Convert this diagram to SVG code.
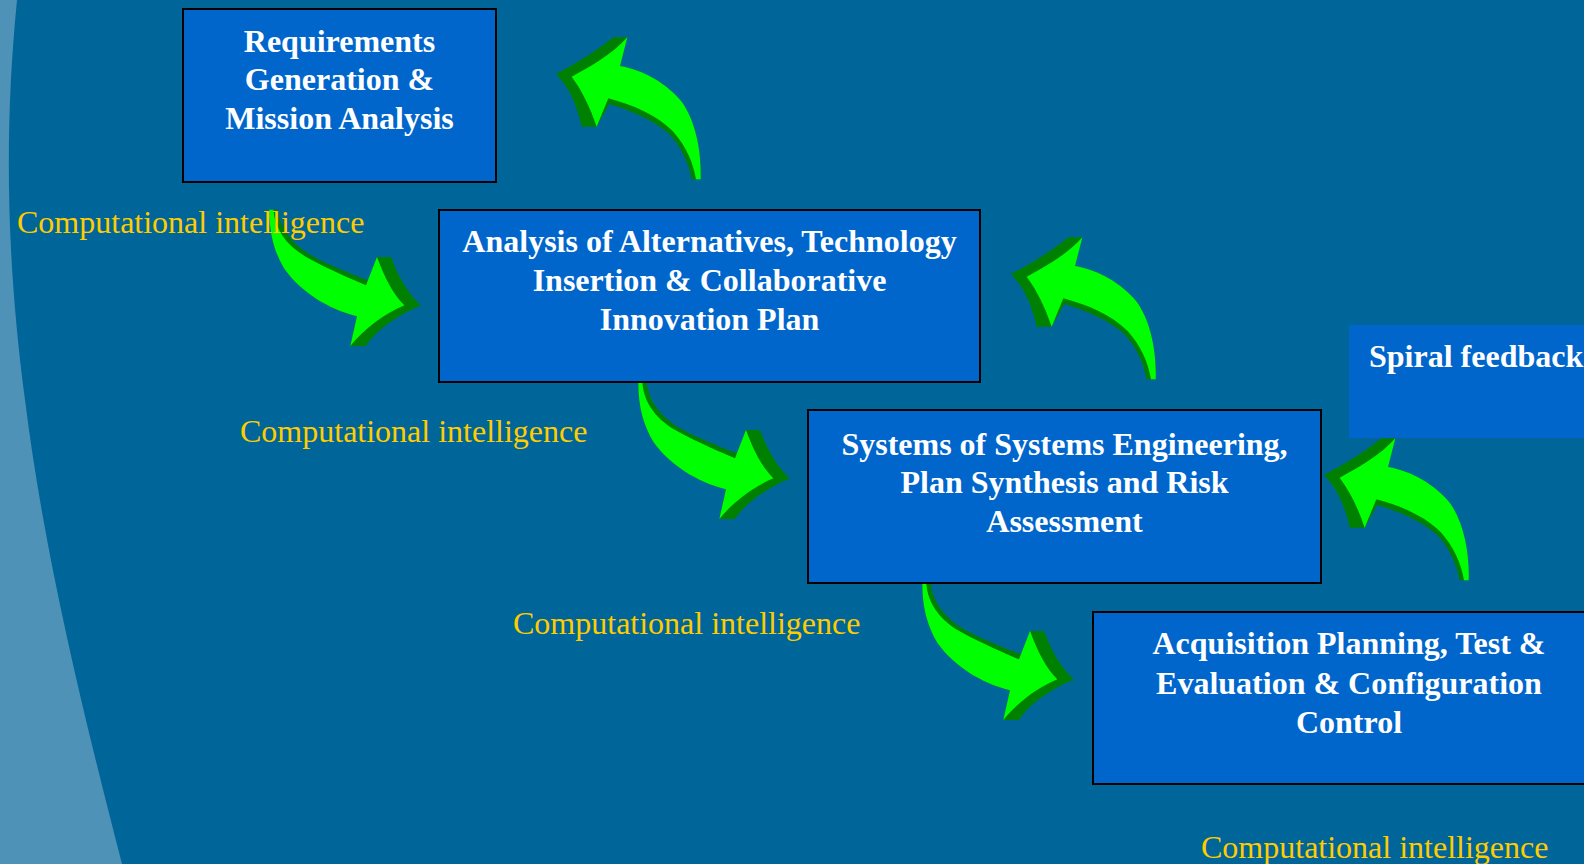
<svg xmlns="http://www.w3.org/2000/svg" xmlns:xlink="http://www.w3.org/1999/xlink" width="1584" height="864" viewBox="0 0 1584 864">
<style>
.box{fill:#0066CC;stroke:#000000;stroke-width:2}
.box2{fill:#0066CC}
.t{font-family:"Liberation Serif","Times New Roman",serif;font-weight:bold;font-size:32px;fill:#FFFFFF;text-anchor:middle}
.ts{font-family:"Liberation Serif","Times New Roman",serif;font-weight:bold;font-size:32px;fill:#FFFFFF}
.lbl{font-family:"Liberation Serif","Times New Roman",serif;font-size:32px;fill:#FFCC00}
.dk{fill:#008000}
.lt{fill:#00FF00}
</style>
<defs>
<g id="arrowUL" transform="scale(0.33333)">
<path class="dk" d="M48,132 C110,100 175,60 220,22 L262,22 L240,108 C310,120 380,160 425,215 C465,270 485,360 482,448 L455,448 C445,395 420,345 385,310 C340,270 270,240 208,222 L170,290 L125,290 C110,220 85,170 48,132 Z"/>
<path class="lt" d="M95,140 C150,110 215,75 262,22 L240,108 C310,120 380,160 425,215 C465,270 485,360 482,448 L468,448 C460,395 435,345 400,305 C350,255 280,225 205,205 L170,290 C150,230 125,180 95,140 Z"/>
</g>
<g id="arrowDR" transform="scale(0.33333)">
<path class="dk" d="M55,38 L80,38 C88,100 130,150 200,185 C260,215 320,238 352,250 L378,180 L420,180 C440,235 470,290 510,325 C440,355 375,400 345,447 L298,447 L318,358 C230,335 150,285 100,215 C70,165 55,110 55,38 Z"/>
<path class="lt" d="M55,38 L67,38 C72,100 110,150 175,185 C240,220 300,245 345,265 L378,180 C400,240 425,290 460,325 C400,350 340,395 298,447 L318,358 C230,335 150,285 100,215 C70,165 55,110 55,38 Z"/>
</g>
</defs>
<rect x="0" y="0" width="1584" height="864" fill="#006699"/>
<path d="M0,0 H17 C5,120 5,250 25,400 C45,560 85,720 122,864 H0 Z" fill="#4F92B8"/>
<g id="connectors">
<use xlink:href="#arrowUL" href="#arrowUL" transform="translate(540,30)"/>
<use xlink:href="#arrowUL" href="#arrowUL" transform="translate(995,230)"/>
<use xlink:href="#arrowUL" href="#arrowUL" transform="translate(1308,431)"/>
<use xlink:href="#arrowDR" href="#arrowDR" transform="translate(251,197)"/>
<use xlink:href="#arrowDR" href="#arrowDR" transform="translate(620,370)"/>
<use xlink:href="#arrowDR" href="#arrowDR" transform="translate(904,571)"/>
</g>
<g id="node-requirements">
<rect class="box" x="183" y="9" width="313" height="173"/>
<text class="t" x="339.5" y="52">Requirements</text>
<text class="t" x="339.5" y="90">Generation &amp;</text>
<text class="t" x="339.5" y="129">Mission Analysis</text>
</g>
<g id="node-analysis">
<rect class="box" x="439" y="210" width="541" height="172"/>
<text class="t" x="709.5" y="252">Analysis of Alternatives, Technology</text>
<text class="t" x="709.5" y="291">Insertion &amp; Collaborative</text>
<text class="t" x="709.5" y="330">Innovation Plan</text>
</g>
<g id="node-sose">
<rect class="box" x="808" y="410" width="513" height="173"/>
<text class="t" x="1064.5" y="455">Systems of Systems Engineering,</text>
<text class="t" x="1064.5" y="493">Plan Synthesis and Risk</text>
<text class="t" x="1064.5" y="532">Assessment</text>
</g>
<g id="node-acquisition">
<rect class="box" x="1093" y="612" width="512" height="172"/>
<text class="t" x="1349" y="654">Acquisition Planning, Test &amp;</text>
<text class="t" x="1349" y="694">Evaluation &amp; Configuration</text>
<text class="t" x="1349" y="733">Control</text>
</g>
<g id="node-spiral">
<rect class="box2" x="1349" y="325" width="260" height="113"/>
<text class="ts" x="1369" y="367">Spiral feedback</text>
</g>
<g id="labels">
<text class="lbl" x="17" y="233">Computational intelligence</text>
<text class="lbl" x="240" y="442">Computational intelligence</text>
<text class="lbl" x="513" y="634">Computational intelligence</text>
<text class="lbl" x="1201" y="858">Computational intelligence</text>
</g>
</svg>
